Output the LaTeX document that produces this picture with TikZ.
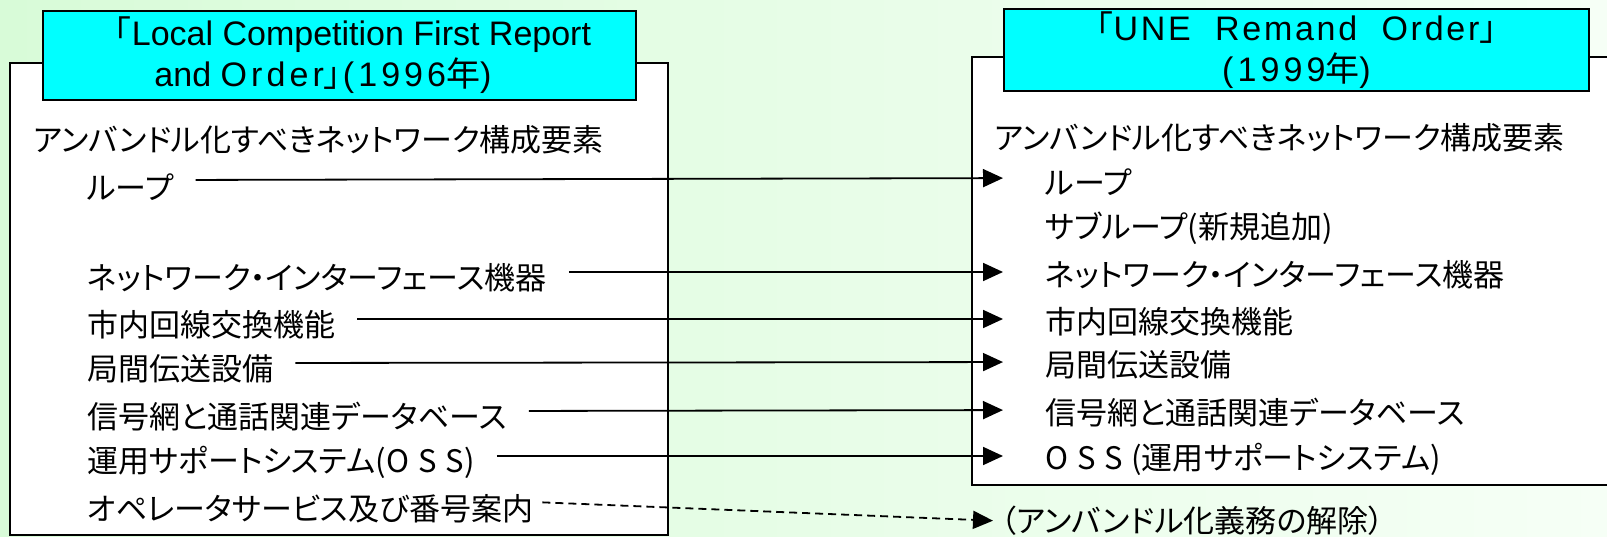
\documentclass[tikz,border=0pt]{standalone}
\usepackage{fontspec}
\setmainfont{Noto Sans CJK JP}[RawFeature=+palt]
\newfontfamily\jpfont{Noto Sans CJK JP}
\newfontfamily\jpspaced{Noto Sans CJK JP}[LetterSpace=30]
\newfontfamily\titlefont{Liberation Sans}
\newfontfamily\titlespaced{Liberation Sans}[LetterSpace=12]
\newfontfamily\titlewide{Liberation Sans}[LetterSpace=8]
\usetikzlibrary{arrows.meta}
\definecolor{bgleft}{RGB}{216,251,216}
\definecolor{bgright}{RGB}{246,255,246}
\definecolor{titlecyan}{RGB}{0,255,255}

\begin{document}
\begin{tikzpicture}[x=1pt, y=-1pt,
  item/.style={anchor=west, inner sep=0pt, font=\fontsize{31}{37}\selectfont},
  titlebox/.style={draw, line width=2.5pt, fill=titlecyan, align=center, inner sep=0pt,
    minimum width=593pt, minimum height=89pt, font=\titlefont\fontsize{34}{41}\selectfont},
  listbox/.style={draw, line width=1.5pt, fill=white},
  link/.style={line width=1.8pt, -{Triangle[length=20pt,width=18pt]}, shorten <=22pt, shorten >=42pt},
  droplink/.style={line width=1.8pt, dash pattern=on 8pt off 5pt, -{Triangle[length=20pt,width=18pt]},
    shorten <=9pt, shorten >=8pt}]

\useasboundingbox (0,0) rectangle (1607,537);
\clip (0,0) rectangle (1607,537);
\shade[left color=bgleft, right color=bgright] (0,0) rectangle (1607,537);

% 1996 order
\draw[listbox] (10,63) rectangle (668,535);
\node[titlebox] (oldtitle) at (339.5,55.5)
  {\hspace*{27pt}{\jpfont ｢}Local Competition First Report\\
   and {\titlespaced Order}{\jpfont ｣}\hspace{2pt}{\titlespaced (1996}{\jpfont 年})\hspace*{33pt}};
\node[item] (oldhead) at (33,140) {アンバンドル化すべきネットワーク構成要素};
\node[item] (oldloop) at (87,187) {ループ};
\node[item] (oldnid) at (87,278) {ネットワーク・インターフェース機器};
\node[item] (oldswitch) at (87,325) {市内回線交換機能};
\node[item] (oldtrans) at (87,369) {局間伝送設備};
\node[item] (oldsignal) at (87,417) {信号網と通話関連データベース};
\node[item] (oldoss) at (87,462) {運用サポートシステム({\jpspaced OSS})};
\node[item] (oldop) at (87,509) {オペレータサービス及び番号案内};

% 1999 order
\draw[listbox] (972,57) rectangle (1625,485);
\node[titlebox, minimum width=585pt, minimum height=82pt] (newtitle) at (1296.5,50)
  {{\jpfont ｢}{\titlewide UNE\ \ Remand\ \ Order}{\jpfont ｣}\\
   {\titlespaced (1999}{\jpfont 年})};
\node[item] (newhead) at (994,138) {アンバンドル化すべきネットワーク構成要素};
\node[item] (newloop) at (1045,182) {ループ};
\node[item] (newsub) at (1045,228) {サブループ(新規追加)};
\node[item] (newnid) at (1045,275) {ネットワーク・インターフェース機器};
\node[item] (newswitch) at (1045,322) {市内回線交換機能};
\node[item] (newtrans) at (1045,365) {局間伝送設備};
\node[item] (newsignal) at (1045,413) {信号網と通話関連データベース};
\node[item] (newoss) at (1045,459) {{\jpspaced OSS}\hspace{8pt}(運用サポートシステム)};
\node[item] (released) at (1001,521) {（アンバンドル化義務の解除）};

\draw[link] ([yshift=7pt]oldloop.east) -- ([yshift=4pt]newloop.west);
\draw[link] ([yshift=6pt]oldnid.east) -- ([yshift=3pt]newnid.west);
\draw[link] ([yshift=6pt]oldswitch.east) -- ([yshift=3pt]newswitch.west);
\draw[link] ([yshift=6pt]oldtrans.east) -- ([yshift=3pt]newtrans.west);
\draw[link] ([yshift=6pt]oldsignal.east) -- ([yshift=3pt]newsignal.west);
\draw[link] ([yshift=6pt]oldoss.east) -- ([yshift=3pt]newoss.west);
\draw[droplink] ([yshift=7pt]oldop.east) -- (released.west);
\end{tikzpicture}
\end{document}
